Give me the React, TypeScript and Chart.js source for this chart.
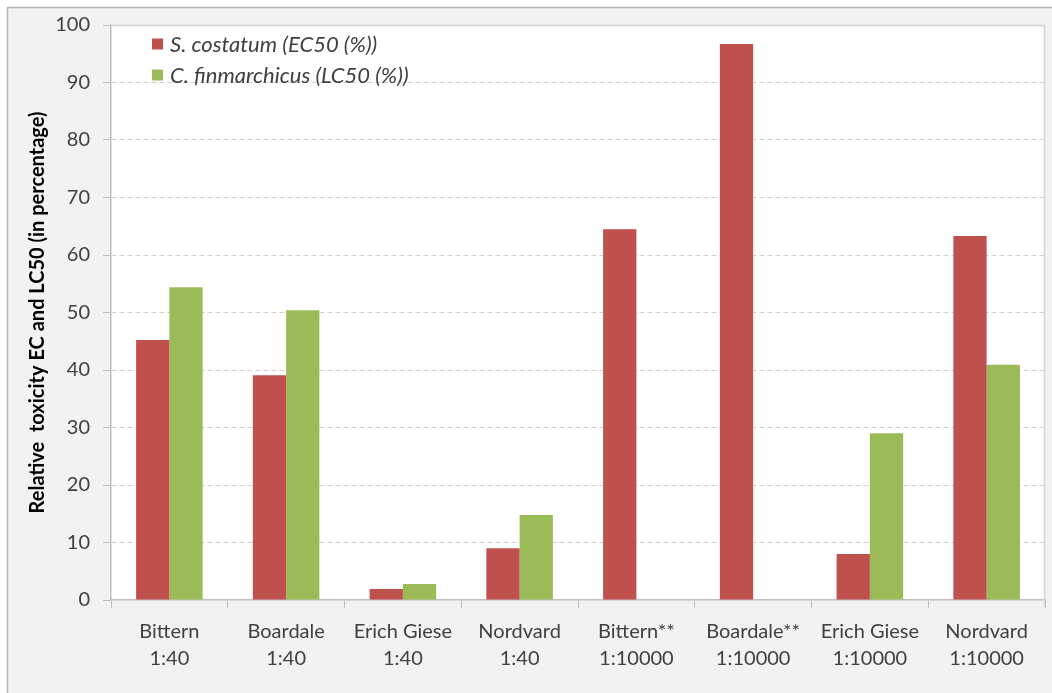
import React, { useEffect, useRef } from "react";
import { Chart, registerables } from "chart.js";

Chart.register(...registerables);

const categories: string[][] = [
  ["Bittern", "1:40"],
  ["Boardale", "1:40"],
  ["Erich Giese", "1:40"],
  ["Nordvard", "1:40"],
  ["Bittern**", "1:10000"],
  ["Boardale**", "1:10000"],
  ["Erich Giese", "1:10000"],
  ["Nordvard", "1:10000"],
];
const sCostatum: (number | null)[] = [45.2, 39.1, 1.9, 9.0, 64.5, 96.7, 8.0, 63.3];
const cFinmarchicus: (number | null)[] = [54.4, 50.4, 2.8, 14.8, null, null, 29.0, 40.9];
const seriesNames = ["S. costatum (EC50 (%))", "C. finmarchicus (LC50 (%))"];
const yTitle = "Relative  toxicity EC and LC50 (in percentage)";

const FONT = "Lato, 'Noto Sans', sans-serif";

const framePlugin = {
  id: "frame",
  beforeDraw(chart: any) {
    const { ctx, chartArea, width, height } = chart;
    ctx.save();
    ctx.fillStyle = "#ffffff";
    ctx.fillRect(0, 0, width, height);
    ctx.fillStyle = "#f2f2f2";
    ctx.fillRect(7, 7, width - 7, height - 7);
    ctx.strokeStyle = "#b3b3b3";
    ctx.lineWidth = 1.5;
    ctx.beginPath();
    ctx.moveTo(7.5, height);
    ctx.lineTo(7.5, 7.5);
    ctx.lineTo(width, 7.5);
    ctx.stroke();
    ctx.fillStyle = "#ffffff";
    ctx.fillRect(chartArea.left, chartArea.top, chartArea.right - chartArea.left, chartArea.bottom - chartArea.top);
    ctx.restore();
  },
  beforeDatasetsDraw(chart: any) {
    const { ctx, chartArea } = chart;
    ctx.save();
    ctx.strokeStyle = "#d4d4d4";
    ctx.lineWidth = 1.5;
    ctx.beginPath();
    ctx.moveTo(chartArea.left, chartArea.top + 0.5);
    ctx.lineTo(chartArea.right - 0.5, chartArea.top + 0.5);
    ctx.lineTo(chartArea.right - 0.5, chartArea.bottom + 7);
    ctx.stroke();
    ctx.restore();
  },
  afterDraw(chart: any) {
    const { ctx, chartArea } = chart;
    ctx.save();
    ctx.font = `italic 22px ${FONT}`;
    ctx.textBaseline = "middle";
    ctx.textAlign = "left";
    chart.data.datasets.forEach((ds: any, i: number) => {
      const y = chartArea.top + 19 + i * 31;
      ctx.fillStyle = ds.backgroundColor;
      ctx.fillRect(chartArea.left + 41, y - 5.5, 11, 11);
      ctx.fillStyle = "#404040";
      ctx.fillText(ds.label, chartArea.left + 59, y + 1);
    });
    ctx.restore();
  },
};

export default function App() {
  const ref = useRef<HTMLCanvasElement | null>(null);
  useEffect(() => {
    document.body.style.margin = "0";
    const canvas = ref.current!;
    const chart = new Chart(canvas, {
      type: "bar",
      data: {
        labels: categories,
        datasets: [
          {
            label: seriesNames[0],
            data: sCostatum,
            backgroundColor: "#C0504D",
            barPercentage: 1,
            categoryPercentage: 0.57,
          },
          {
            label: seriesNames[1],
            data: cFinmarchicus,
            backgroundColor: "#9BBB59",
            barPercentage: 1,
            categoryPercentage: 0.57,
          },
        ],
      },
      options: {
        responsive: false,
        animation: false,
        layout: { padding: { top: 25, right: 7, left: 0, bottom: 0 } },
        plugins: {
          legend: { display: false },
          tooltip: { enabled: false },
        },
        scales: {
          x: {
            grid: {
              offset: true,
              drawOnChartArea: false,
              drawTicks: true,
              tickLength: 8,
              color: "#bfbfbf",
            },
            border: { color: "#bfbfbf", width: 1.5 },
            ticks: {
              color: "#404040",
              font: { family: FONT, size: 20, lineHeight: 1.35 },
              padding: 10,
              maxRotation: 0,
              autoSkip: false,
            },
            afterFit(scale: any) {
              scale.height = 93;
            },
          },
          y: {
            min: 0,
            max: 100,
            ticks: {
              stepSize: 10,
              color: "#404040",
              font: { family: FONT, size: 20 },
              padding: 13,
            },
            grid: {
              color: (c: any) =>
                c.tick && (c.tick.value === 0 || c.tick.value === 100) ? "rgba(0,0,0,0)" : "#d0d0d0",
              tickColor: "#bfbfbf",
              tickLength: 8,
              lineWidth: 1,
            },
            border: { color: "#bfbfbf", width: 1.5, dash: [5, 3] },
            title: {
              display: true,
              text: yTitle,
              color: "#000000",
              font: { family: FONT, size: 20, weight: "bold" },
              padding: { top: 26, bottom: 0 },
            },
            afterFit(scale: any) {
              scale.width = 111;
            },
          },
        },
      },
      plugins: [framePlugin],
    });
    return () => chart.destroy();
  }, []);
  return <canvas ref={ref} width={1052} height={693} style={{ display: "block" }} />;
}
